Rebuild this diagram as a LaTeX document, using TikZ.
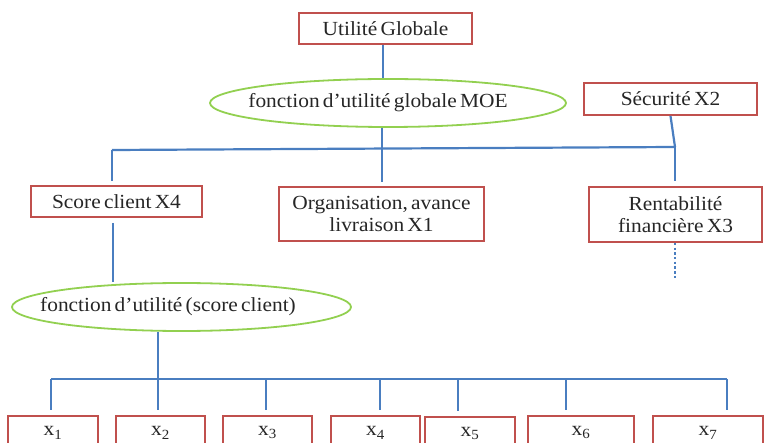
\documentclass[tikz,border=0pt]{standalone}
\usepackage{fontspec}
\setmainfont{Liberation Serif}[FakeStretch=1.07, WordSpace=0.6]
\usetikzlibrary{shapes.geometric}
\definecolor{boxred}{RGB}{192,80,77}
\definecolor{linkblue}{RGB}{74,126,192}
\definecolor{ellgreen}{RGB}{146,208,80}
\begin{document}
\begin{tikzpicture}[x=1pt,y=-1pt,
  lbl/.style={font=\fontsize{20}{22}\selectfont, text=black!85},
  rbox/.style={lbl, draw=boxred, line width=1.8pt, fill=white, inner sep=0pt, align=center},
  gell/.style={lbl, ellipse, draw=ellgreen, line width=1.8pt, inner sep=0pt},
  link/.style={draw=linkblue, line width=2.2pt},
  xbox/.style={rbox, anchor=north, minimum height=34pt},
]
\useasboundingbox (0,0) rectangle (765,443);
\clip (0,0) rectangle (765,443);
% nodes
\node[rbox, minimum width=173pt, minimum height=31pt] (ug) at (385.5,28.5) {Utilité Globale};
\node[gell, minimum width=356pt, minimum height=48pt] (moe) at (388,103) {\hspace*{-20pt}fonction d'utilité globale MOE};
\node[rbox, minimum width=173pt, minimum height=32pt] (sec) at (670.5,99) {Sécurité X2};
\node[rbox, minimum width=171pt, minimum height=31pt] (score) at (116.5,201.5) {Score client X4};
\node[rbox, minimum width=205pt, minimum height=54pt] (org) at (381.5,214) {Organisation, avance\\livraison X1};
\node[rbox, minimum width=173pt, minimum height=55pt] (rent) at (675.5,214.5) {Rentabilité\\financière X3};
\node[gell, minimum width=339pt, minimum height=48pt] (sc) at (181.5,307) {\hspace*{-27pt}fonction d'utilité (score client)};
\node[xbox, minimum width=90pt] (x1) at (53,415) {x\textsubscript{1}};
\node[xbox, minimum width=89pt] (x2) at (160.5,415) {x\textsubscript{2}};
\node[xbox, minimum width=89pt] (x3) at (267.5,415) {x\textsubscript{3}};
\node[xbox, minimum width=89pt] (x4) at (375.5,415) {x\textsubscript{4}};
\node[xbox, minimum width=90pt] (x5) at (470,416) {x\textsubscript{5}};
\node[xbox, minimum width=106pt] (x6) at (581,415) {x\textsubscript{6}};
\node[xbox, minimum width=110pt] (x7) at (708,415) {x\textsubscript{7}};
% junction coordinates
\coordinate (tA) at (383,0);
\coordinate (tB) at (382,0);
\coordinate (busL) at (112,150);
\coordinate (busR) at (675,147);
\coordinate (tS) at (113,0);
\coordinate (tC) at (158,0);
\coordinate (lb1) at (51,379);
\coordinate (lb2) at (158,379);
\coordinate (lb3) at (266,379);
\coordinate (lb4) at (380,379);
\coordinate (lb5) at (458,379);
\coordinate (lb6) at (566,379);
\coordinate (lb7) at (727,379);
% connectors
\draw[link] (ug.south -| tA) -- (moe.north -| tA);
\draw[link, shorten >=4pt] (moe.south -| tB) -- (org.north -| tB);
\draw[link] (busL) -- (busR);
\draw[link] (sec.south) -- (busR);
\draw[link, shorten >=4pt] (busL) -- (score.north -| busL);
\draw[link, shorten >=5pt] (busR) -- (rent.north -| busR);
\draw[link, shorten <=5pt] (score.south -| tS) -- (sc.north -| tS);
\draw[link, line width=2.6pt, dash pattern=on 2.5pt off 2.2pt] (rent.south -| busR) -- ++(0,36);
\draw[link] (sc.south -| tC) -- (lb2);
\draw[link] (lb1) -- (lb7);
\foreach \i in {1,...,7}{
  \draw[link, shorten >=5pt] (lb\i) -- (x\i.north -| lb\i);
}
\end{tikzpicture}
\end{document}
